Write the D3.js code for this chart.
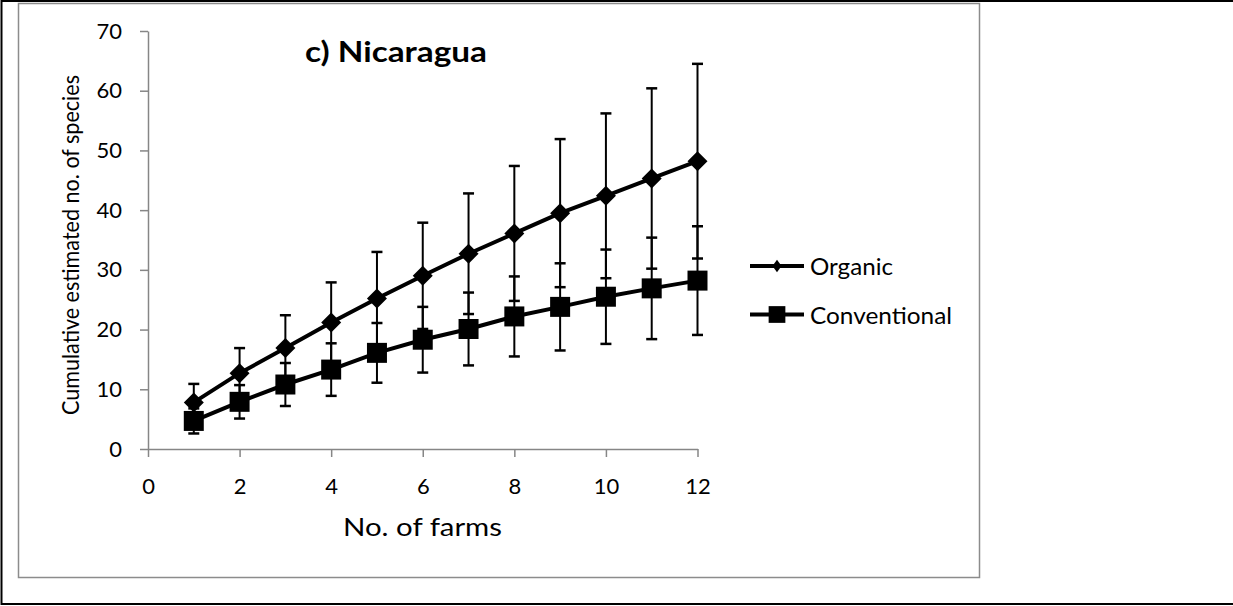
<!DOCTYPE html>
<html>
<head>
<meta charset="utf-8">
<script src="https://cdn.jsdelivr.net/npm/d3@7"></script>
<style>
  body { margin: 0; background: #fff; }
  text { font-family: Lato, "Open Sans", sans-serif; fill: #000; }
</style>
</head>
<body>
<div id="chart"></div>
<script>
// Data
const farms = [1, 2, 3, 4, 5, 6, 7, 8, 9, 10, 11, 12];
const organicMean = [7.8, 12.7, 16.9, 21.2, 25.2, 29.0, 32.7, 36.1, 39.5, 42.4, 45.3, 48.2];
const organicErr = [3.1, 4.2, 5.5, 6.7, 7.8, 8.9, 10.1, 11.3, 12.4, 13.8, 15.1, 16.3];
const conventionalMean = [4.7, 7.9, 10.8, 13.3, 16.1, 18.3, 20.1, 22.2, 23.8, 25.5, 26.9, 28.2];
const conventionalErr = [2.1, 2.8, 3.6, 4.4, 5.0, 5.5, 6.1, 6.7, 7.3, 7.9, 8.5, 9.1];
const xTicks = [0, 2, 4, 6, 8, 10, 12];
const yTicks = [0, 10, 20, 30, 40, 50, 60, 70];

// Page and plot geometry
const W = 1233, H = 606;
const plot = { left: 148, right: 697.5, top: 31, bottom: 449 };

const svg = d3.select("#chart")
  .append("svg")
  .attr("width", W)
  .attr("height", H);

// Outer black frame (top, left, bottom)
svg.append("path")
  .attr("d", `M${W},1 H1.5 V604 H${W}`)
  .attr("fill", "none")
  .attr("stroke", "#000")
  .attr("stroke-width", 2);

// Grey chart area border
svg.append("rect")
  .attr("x", 18.5).attr("y", 3.5)
  .attr("width", 961).attr("height", 574)
  .attr("fill", "none")
  .attr("stroke", "#8c8c8c")
  .attr("stroke-width", 1.5);

// Scales
const x = d3.scaleLinear().domain([0, 12]).range([plot.left, plot.right]);
const y = d3.scaleLinear().domain([0, 70]).range([plot.bottom, plot.top]);

// Axes
const xAxis = svg.append("g")
  .attr("transform", `translate(0,${plot.bottom})`)
  .call(d3.axisBottom(x).tickValues(xTicks).tickSize(8).tickPadding(21).tickSizeOuter(0));
const yAxis = svg.append("g")
  .attr("transform", `translate(${plot.left},0)`)
  .call(d3.axisLeft(y).tickValues(yTicks).tickSize(8).tickPadding(18).tickSizeOuter(0));

[xAxis, yAxis].forEach(a => {
  a.select(".domain").attr("stroke", "#868686").attr("stroke-width", 1.5);
  a.selectAll(".tick line").attr("stroke", "#868686").attr("stroke-width", 1.5);
  a.selectAll(".tick text").style("font-size", "22px").attr("fill", "#000");
});

// Axis titles
svg.append("text")
  .attr("x", 422.5).attr("y", 536)
  .attr("text-anchor", "middle")
  .attr("textLength", 159)
  .attr("lengthAdjust", "spacingAndGlyphs")
  .style("font-size", "25px")
  .text("No. of farms");

svg.append("text")
  .attr("transform", "translate(79,245) rotate(-90)")
  .attr("text-anchor", "middle")
  .attr("textLength", 340)
  .attr("lengthAdjust", "spacingAndGlyphs")
  .style("font-size", "23px")
  .text("Cumulative estimated no. of species");

// Chart title
svg.append("text")
  .attr("x", 305).attr("y", 62)
  .attr("textLength", 182)
  .attr("lengthAdjust", "spacingAndGlyphs")
  .style("font-size", "29px")
  .style("font-weight", "bold")
  .text("c) Nicaragua");

// Series
const series = [
  { name: "Organic", mean: organicMean, err: organicErr, symbol: d3.symbolSquare, size: 200, rotate: 45,
    legendSize: 80, legendScale: "scale(0.72,1)", legendWidth: 83 },
  { name: "Conventional", mean: conventionalMean, err: conventionalErr, symbol: d3.symbolSquare, size: 400, rotate: 0,
    legendSize: 280, legendScale: "scale(1,1)", legendWidth: 142 }
];

const line = d3.line()
  .x(d => x(d.farm))
  .y(d => y(d.mean));

series.forEach(s => {
  const pts = farms.map((f, i) => ({ farm: f, mean: s.mean[i], err: s.err[i] }));

  // Error bars
  const eb = svg.append("g").selectAll("g").data(pts).join("g");
  eb.append("line")
    .attr("x1", d => x(d.farm)).attr("x2", d => x(d.farm))
    .attr("y1", d => y(d.mean - d.err)).attr("y2", d => y(d.mean + d.err))
    .attr("stroke", "#000").attr("stroke-width", 2);
  [-1, 1].forEach(sign => {
    eb.append("line")
      .attr("x1", d => x(d.farm) - 5.5).attr("x2", d => x(d.farm) + 5.5)
      .attr("y1", d => y(d.mean + sign * d.err)).attr("y2", d => y(d.mean + sign * d.err))
      .attr("stroke", "#000").attr("stroke-width", 2.5);
  });

  // Line
  svg.append("path")
    .datum(pts)
    .attr("fill", "none")
    .attr("stroke", "#000")
    .attr("stroke-width", 4)
    .attr("d", line);

  // Markers
  svg.append("g").selectAll("path").data(pts).join("path")
    .attr("transform", d => `translate(${x(d.farm)},${y(d.mean)}) rotate(${s.rotate})`)
    .attr("d", d3.symbol().type(s.symbol).size(s.size))
    .attr("fill", "#000");
});

// Legend
const legend = svg.append("g");
series.forEach((s, i) => {
  const ly = 266 + i * 48.5;
  legend.append("line")
    .attr("x1", 750).attr("x2", 804)
    .attr("y1", ly).attr("y2", ly)
    .attr("stroke", "#000").attr("stroke-width", 4);
  legend.append("path")
    .attr("transform", `translate(777,${ly}) ${s.legendScale} rotate(${s.rotate})`)
    .attr("d", d3.symbol().type(s.symbol).size(s.legendSize))
    .attr("fill", "#000");
  legend.append("text")
    .attr("x", 810).attr("y", ly + 9)
    .attr("textLength", s.legendWidth)
    .attr("lengthAdjust", "spacingAndGlyphs")
    .style("font-size", "23px")
    .text(s.name);
});
</script>
</body>
</html>
